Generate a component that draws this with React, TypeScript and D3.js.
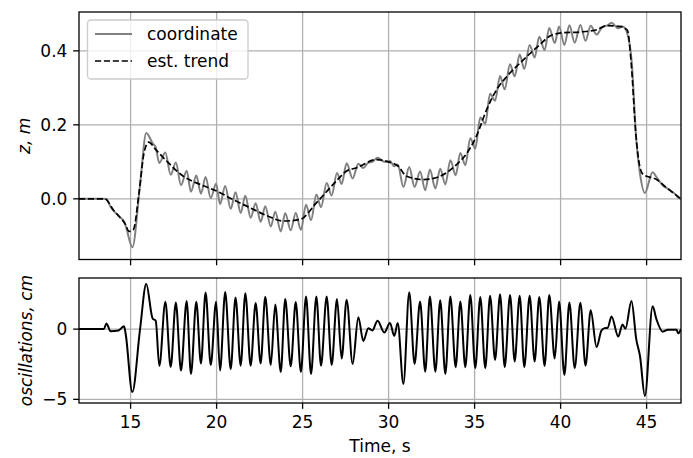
import React from 'react';
import * as d3 from 'd3';

// ---------- data ----------
const timeTicks = [15, 20, 25, 30, 35, 40, 45];
const zTicks = [0, 0.2, 0.4];
const zTickLabels = ['0.0', '0.2', '0.4'];
const oscTicks = [-5, 0];
const oscTickLabels = ['\u22125', '0'];

// smoothed trend (est. trend), metres
const trendT = [12, 13.5, 14.0, 14.33, 14.7, 14.91, 15.16, 15.49, 15.78, 16.05, 16.46, 17.1, 18.06, 19.03, 20.0, 20.96, 21.94, 22.9, 23.87, 24.84, 25.8, 26.78, 27.56, 28.14, 29.3, 29.98, 30.56, 31.05, 32.02, 32.99, 33.96, 34.53, 35.1, 35.7, 36.28, 36.86, 37.44, 38.02, 38.8, 39.38, 40.15, 41.13, 42.1, 42.67, 43.45, 43.88, 44.12, 44.37, 44.6, 44.8, 45.58, 46.16, 47];
const trendZ = [0, 0, -0.03, -0.047, -0.069, -0.088, -0.083, 0.016, 0.124, 0.153, 0.133, 0.102, 0.061, 0.039, 0.021, -0.002, -0.024, -0.045, -0.06, -0.056, -0.011, 0.039, 0.075, 0.084, 0.106, 0.1, 0.088, 0.061, 0.052, 0.061, 0.093, 0.122, 0.169, 0.241, 0.295, 0.33, 0.358, 0.384, 0.417, 0.44, 0.449, 0.451, 0.457, 0.468, 0.466, 0.456, 0.358, 0.178, 0.088, 0.066, 0.052, 0.03, 0];

// sample times of the oscillation extremes
const sampleT = [12, 13.45, 13.59, 13.84, 14.29, 14.62, 14.72, 15.1, 15.55, 15.91, 16.28, 16.46, 16.67, 17.02, 17.33, 17.63, 17.93, 18.26, 18.51, 18.82, 19.09, 19.36, 19.66, 19.97, 20.2, 20.5, 20.82, 21.1, 21.4, 21.67, 21.98, 22.27, 22.56, 22.83, 23.15, 23.41, 23.73, 23.99, 24.31, 24.6, 24.9, 25.2, 25.49, 25.8, 26.07, 26.4, 26.69, 27.0, 27.27, 27.56, 27.91, 28.24, 28.53, 28.82, 29.05, 29.36, 29.75, 30.08, 30.33, 30.53, 30.86, 31.2, 31.51, 31.83, 32.13, 32.4, 32.72, 33.0, 33.3, 33.59, 33.9, 34.17, 34.46, 34.75, 35.04, 35.33, 35.62, 35.9, 36.19, 36.48, 36.75, 37.06, 37.33, 37.62, 37.89, 38.2, 38.49, 38.76, 39.07, 39.34, 39.66, 39.91, 40.22, 40.51, 40.82, 41.15, 41.45, 41.75, 42.09, 42.37, 42.56, 42.74, 42.96, 43.35, 43.6, 43.77, 44.12, 44.4, 44.62, 44.9, 45.35, 45.57, 45.94, 46.24, 46.74, 46.84, 47];

// coordinate, metres
const coordZ = [0, 0, -0.001, -0.022, -0.046, -0.062, -0.074, -0.131, 0.038, 0.178, 0.15, 0.139, 0.097, 0.125, 0.065, 0.098, 0.037, 0.076, 0.019, 0.063, 0.014, 0.059, 0.002, 0.041, -0.014, 0.035, -0.027, 0.018, -0.038, 0.008, -0.051, -0.012, -0.062, -0.02, -0.075, -0.035, -0.088, -0.039, -0.085, -0.038, -0.084, -0.016, -0.058, 0.012, -0.023, 0.043, 0.009, 0.07, 0.04, 0.096, 0.055, 0.095, 0.083, 0.098, 0.1, 0.111, 0.1, 0.102, 0.088, 0.093, 0.032, 0.086, 0.032, 0.074, 0.023, 0.079, 0.028, 0.081, 0.039, 0.104, 0.064, 0.124, 0.091, 0.164, 0.136, 0.22, 0.203, 0.284, 0.265, 0.332, 0.296, 0.364, 0.331, 0.39, 0.351, 0.416, 0.382, 0.438, 0.402, 0.462, 0.421, 0.466, 0.416, 0.469, 0.422, 0.47, 0.427, 0.468, 0.444, 0.461, 0.467, 0.469, 0.476, 0.461, 0.466, 0.459, 0.378, 0.159, 0.067, 0.016, 0.072, 0.059, 0.036, 0.027, 0.009, 0.003, 0];

// oscillations, centimetres
const oscV = [0, 0, 0.4, -0.15, -0.1, 0.2, -0.4, -4.48, 0, 3.21, 0.76, 0.6, -2.62, 1.95, -2.7, 1.9, -2.95, 2.0, -3.2, 1.95, -2.45, 2.6, -2.55, 1.95, -2.95, 2.65, -2.85, 2.26, -2.6, 2.56, -2.6, 1.86, -2.44, 2.3, -2.55, 1.75, -3.05, 2.14, -2.65, 1.93, -3.05, 2.33, -3.2, 2.33, -2.6, 2.33, -2.55, 2.14, -2.1, 2.1, -2.48, 0.85, -0.84, 0.07, -0.1, 0.59, -0.24, 0.43, -0.48, 0.43, -3.9, 2.62, -2.48, 1.97, -3.03, 2.33, -3.03, 2.05, -3.19, 2.33, -2.71, 1.97, -2.71, 2.43, -2.78, 2.29, -2.78, 2.38, -2.2, 2.48, -2.71, 2.43, -2.3, 2.38, -2.71, 2.38, -2.3, 2.29, -2.62, 2.43, -2.1, 1.97, -3.26, 1.9, -2.78, 1.88, -2.6, 1.35, -1.27, -0.12, 0.07, 0.1, 0.9, -0.53, 0.33, 0.03, 2.0, -0.73, -1.95, -4.76, 1.62, 0.71, -0.18, -0.05, -0.05, -0.3, 0];

const legendLabels = ['coordinate', 'est. trend'];
const xLabel = 'Time, s';
const y1Label = 'z, m';
const y2Label = 'oscillations, cm';

// ---------- component ----------
export default function App() {
  const W = 693, H = 458;
  const left = 79, right = 681;
  const top1 = 12, bot1 = 259.5, top2 = 278, bot2 = 403;
  const font = 'DejaVu Sans, Liberation Sans, sans-serif';
  const fs = 17;
  const tickLen = 5.8, pad = 5.8;
  const gridColor = '#b0b0b0';

  const x = d3.scaleLinear().domain([12, 47]).range([left, right]);
  const y1 = d3.scaleLinear().domain([-0.164, 0.505]).range([bot1, top1]);
  const y2 = d3.scaleLinear().domain([-5.26, 3.64]).range([bot2, top2]);

  const trendLine = d3.line<number>().x((_, i) => x(trendT[i])).y((d) => y1(d)).curve(d3.curveMonotoneX);
  const coordLine = d3.line<number>().x((_, i) => x(sampleT[i])).y((d) => y1(d)).curve(d3.curveMonotoneX);
  const oscLine = d3.line<number>().x((_, i) => x(sampleT[i])).y((d) => y2(d)).curve(d3.curveMonotoneX);

  const panel = (top: number, bot: number, yScale: d3.ScaleLinear<number, number>, yTicks: number[], yLabels: string[], showXLabels: boolean) => (
    <g>
      {timeTicks.map((t) => (
        <line key={'gx' + t} x1={x(t)} x2={x(t)} y1={top} y2={bot} stroke={gridColor} strokeWidth={1.3} />
      ))}
      {yTicks.map((v) => (
        <line key={'gy' + v} x1={left} x2={right} y1={yScale(v)} y2={yScale(v)} stroke={gridColor} strokeWidth={1.3} />
      ))}
      {timeTicks.map((t) => (
        <line key={'tx' + t} x1={x(t)} x2={x(t)} y1={bot} y2={bot + tickLen} stroke="#000" strokeWidth={1.3} />
      ))}
      {yTicks.map((v, i) => (
        <g key={'ty' + v}>
          <line x1={left - tickLen} x2={left} y1={yScale(v)} y2={yScale(v)} stroke="#000" strokeWidth={1.3} />
          <text x={left - tickLen - pad} y={yScale(v)} dy="0.36em" textAnchor="end" fontFamily={font} fontSize={fs} fill="#000">
            {yLabels[i]}
          </text>
        </g>
      ))}
      {showXLabels &&
        timeTicks.map((t) => (
          <text key={'lx' + t} x={x(t)} y={bot + tickLen + pad + 13} textAnchor="middle" fontFamily={font} fontSize={fs} fill="#000">
            {t}
          </text>
        ))}
    </g>
  );

  return (
    <svg width={W} height={H} viewBox={`0 0 ${W} ${H}`} style={{ position: 'absolute', left: 0, top: 0, background: '#fff' }}>
      <defs>
        <clipPath id="clip1">
          <rect x={left} y={top1} width={right - left} height={bot1 - top1} />
        </clipPath>
        <clipPath id="clip2">
          <rect x={left} y={top2} width={right - left} height={bot2 - top2} />
        </clipPath>
      </defs>
      <rect x={0} y={0} width={W} height={H} fill="#fff" />

      {panel(top1, bot1, y1, zTicks, zTickLabels, false)}
      {panel(top2, bot2, y2, oscTicks, oscTickLabels, true)}

      <g clipPath="url(#clip1)">
        <path d={coordLine(coordZ) || ''} fill="none" stroke="#808080" strokeWidth={2} strokeLinejoin="round" />
        <path d={trendLine(trendZ) || ''} fill="none" stroke="#000" strokeWidth={1.7} strokeDasharray="6.2 2.7" />
      </g>
      <g clipPath="url(#clip2)">
        <path d={oscLine(oscV) || ''} fill="none" stroke="#000" strokeWidth={2} strokeLinejoin="round" />
      </g>

      <rect x={left} y={top1} width={right - left} height={bot1 - top1} fill="none" stroke="#000" strokeWidth={1.3} />
      <rect x={left} y={top2} width={right - left} height={bot2 - top2} fill="none" stroke="#000" strokeWidth={1.3} />

      {/* legend */}
      <g>
        <rect x={87.5} y={20} width={160.5} height={59} rx={3.5} fill="#fff" fillOpacity={0.8} stroke="#cccccc" strokeWidth={1.3} />
        <line x1={95} x2={132} y1={34} y2={34} stroke="#808080" strokeWidth={2} />
        <line x1={95} x2={132} y1={61} y2={61} stroke="#000" strokeWidth={1.7} strokeDasharray="6.2 2.7" />
        <text x={147} y={34} dy="0.36em" fontFamily={font} fontSize={fs} fill="#000">{legendLabels[0]}</text>
        <text x={147} y={61} dy="0.36em" fontFamily={font} fontSize={fs} fill="#000">{legendLabels[1]}</text>
      </g>

      {/* axis labels */}
      <text x={(left + right) / 2} y={452} textAnchor="middle" fontFamily={font} fontSize={fs} fill="#000">{xLabel}</text>
      <text transform={`translate(30, ${(top1 + bot1) / 2}) rotate(-90)`} textAnchor="middle" fontFamily={font} fontSize={fs} fontStyle="italic" fill="#000">{y1Label}</text>
      <text transform={`translate(32, ${(top2 + bot2) / 2}) rotate(-90)`} textAnchor="middle" fontFamily={font} fontSize={fs} fontStyle="italic" fill="#000">{y2Label}</text>
    </svg>
  );
}
